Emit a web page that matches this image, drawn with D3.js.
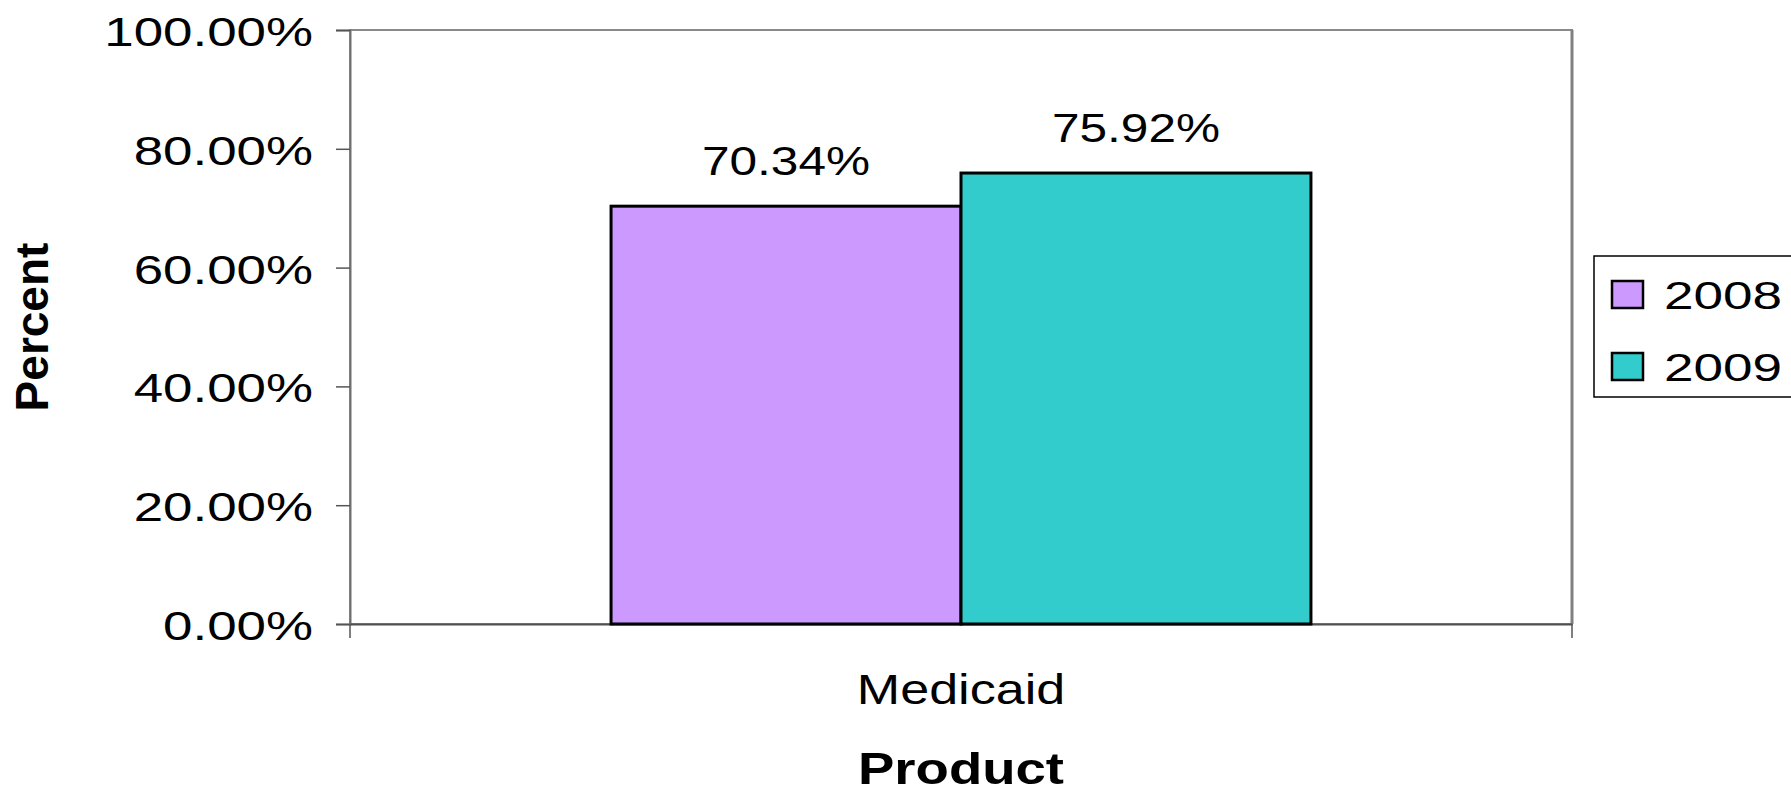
<!DOCTYPE html>
<html>
<head>
<meta charset="utf-8">
<script src="https://cdn.jsdelivr.net/npm/d3@7"></script>
<style>
  body { margin: 0; background: #fff; }
  text { font-family: "Liberation Sans", Arial, sans-serif; fill: #000; }
</style>
</head>
<body>
<div id="chart"></div>
<script>
// chart data
var categories = ["Medicaid"];
var seriesNames = ["2008", "2009"];
var values2008 = [0.7034];
var values2009 = [0.7592];
var seriesColors = ["#CC99FF", "#33CCCC"];
var yTicks = [0, 0.2, 0.4, 0.6, 0.8, 1.0];

var svgWidth = 1791;
var svgHeight = 793;
var margin = { top: 30, right: 219, bottom: 169, left: 350 };
var width = svgWidth - margin.left - margin.right;
var height = svgHeight - margin.top - margin.bottom;
var stretch = 1.24; // text in the reference is wide

var svg = d3.select("#chart")
  .append("svg")
  .attr("width", svgWidth)
  .attr("height", svgHeight);

var g = svg.append("g")
  .attr("transform", `translate(${margin.left}, ${margin.top})`);

var x0 = d3.scaleBand()
  .domain(categories)
  .range([0, width])
  .paddingInner(0)
  .paddingOuter(0.373);

var x1 = d3.scaleBand()
  .domain(seriesNames)
  .range([0, x0.bandwidth()]);

var y = d3.scaleLinear()
  .domain([0, 1])
  .range([height, 0]);

var fmt = d3.format(".2%");

// plot frame
g.append("rect")
  .attr("x", 0).attr("y", 0)
  .attr("width", width).attr("height", height)
  .attr("fill", "none")
  .attr("stroke", "#8a8a8a")
  .attr("stroke-width", 2);
g.append("line")
  .attr("x1", width).attr("x2", width)
  .attr("y1", 0).attr("y2", height)
  .attr("stroke", "#808080").attr("stroke-width", 3);

// y axis
var leftAxis = d3.axisLeft(y).tickValues(yTicks).tickFormat(fmt).tickSize(14).tickPadding(0);
var yAx = g.append("g").call(leftAxis);
yAx.select(".domain").attr("stroke", "#707070").attr("stroke-width", 2);
yAx.selectAll(".tick line").attr("stroke", "#555").attr("stroke-width", 1.5);
yAx.selectAll(".tick text").remove();
yAx.selectAll(".tick").append("text")
  .attr("transform", `translate(-37, 15.5) scale(1.29,1)`)
  .attr("text-anchor", "end")
  .attr("font-size", 41)
  .attr("fill", "#000")
  .text(d => fmt(d));

// x axis
var bottomAxis = d3.axisBottom(x0).tickSize(0).tickFormat("");
var xAx = g.append("g")
  .attr("transform", `translate(0, ${height})`)
  .call(bottomAxis);
xAx.select(".domain").attr("stroke", "#505050").attr("stroke-width", 2);
[0, width].forEach(function(px) {
  xAx.append("line")
    .attr("x1", px).attr("x2", px)
    .attr("y1", 0).attr("y2", 14)
    .attr("stroke", "#555").attr("stroke-width", 1.5);
});
xAx.selectAll(".tick text").remove();
xAx.selectAll(".tick").append("text")
  .attr("transform", `translate(0, 80) scale(${stretch},1)`)
  .attr("text-anchor", "middle")
  .attr("font-size", 42)
  .text(d => d);

// bars
var rows = categories.map(function(c, i) {
  return { cat: c, vals: [values2008[i], values2009[i]] };
});

var groups = g.selectAll(".grp")
  .data(rows)
  .enter()
  .append("g")
  .attr("transform", d => `translate(${x0(d.cat)}, 0)`);

var bars = groups.selectAll("rect")
  .data(d => d.vals.map((v, j) => ({ name: seriesNames[j], v: v, j: j })))
  .enter();

bars.append("rect")
  .attr("x", d => x1(d.name))
  .attr("y", d => y(d.v))
  .attr("width", x1.bandwidth())
  .attr("height", d => height - y(d.v))
  .attr("fill", d => seriesColors[d.j])
  .attr("stroke", "#000")
  .attr("stroke-width", 3);

bars.append("text")
  .attr("transform", d => `translate(${x1(d.name) + x1.bandwidth() / 2}, ${y(d.v) - 31}) scale(${stretch},1)`)
  .attr("text-anchor", "middle")
  .attr("font-size", 40)
  .text(d => fmt(d.v));

// axis titles
svg.append("text")
  .attr("transform", `translate(${margin.left + width / 2}, 784) scale(${stretch},1)`)
  .attr("text-anchor", "middle")
  .attr("font-size", 44)
  .attr("font-weight", "bold")
  .text("Product");

svg.append("text")
  .attr("transform", `translate(48, ${margin.top + height / 2}) rotate(-90)`)
  .attr("text-anchor", "middle")
  .attr("font-size", 46)
  .attr("font-weight", "bold")
  .text("Percent");

// legend
var legend = svg.append("g").attr("transform", "translate(1594, 256)");
legend.append("rect")
  .attr("x", 0).attr("y", 0)
  .attr("width", 220).attr("height", 141)
  .attr("fill", "#fff")
  .attr("stroke", "#000")
  .attr("stroke-width", 1.5);

var items = legend.selectAll(".item")
  .data(seriesNames)
  .enter()
  .append("g")
  .attr("transform", (d, i) => `translate(18, ${25 + i * 72})`);

items.append("rect")
  .attr("width", 31).attr("height", 27)
  .attr("fill", (d, i) => seriesColors[i])
  .attr("stroke", "#000")
  .attr("stroke-width", 2.5);

items.append("text")
  .attr("transform", `translate(52, 28) scale(1.36,1)`)
  .attr("font-size", 39)
  .text(d => d);
</script>
</body>
</html>
